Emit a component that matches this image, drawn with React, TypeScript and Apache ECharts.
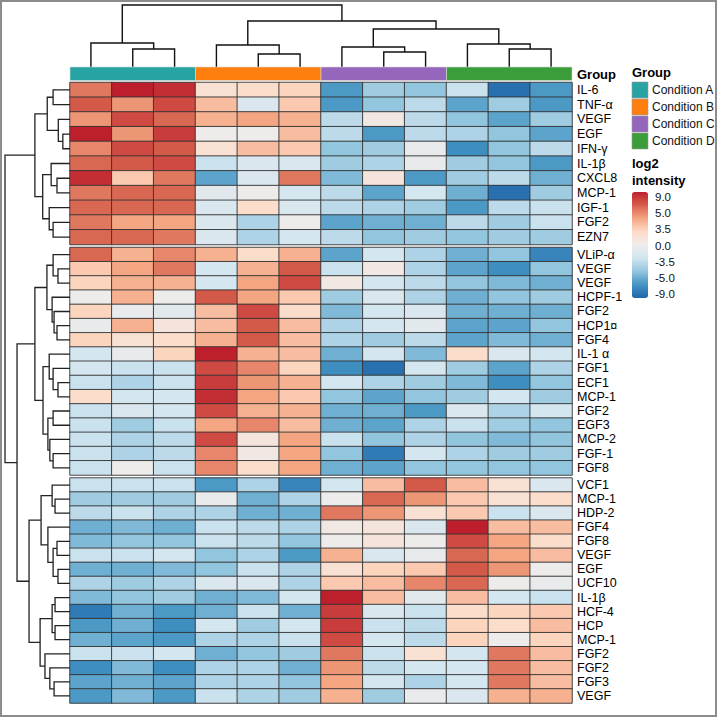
import React, { useEffect, useRef } from "react";
import * as echarts from "echarts";

// ---------------- DATA ----------------
const columns = ["A1", "A2", "A3", "B1", "B2", "B3", "C1", "C2", "C3", "D1", "D2", "D3"];
const groups = ["Condition A", "Condition B", "Condition C", "Condition D"];
const groupColors = ["#27a3a3", "#ff7f0e", "#9467bd", "#3c9e3a"];

const rowsBlock1 = ["IL-6", "TNF-α", "VEGF", "EGF", "IFN-γ", "IL-1β", "CXCL8", "MCP-1", "IGF-1", "FGF2", "EZN7"];
const rowsBlock2 = ["VLiP-α", "VEGF", "VEGF", "HCPF-1", "FGF2", "HCP1¤", "FGF4", "IL-1 α", "FGF1", "ECF1", "MCP-1", "FGF2", "EGF3", "MCP-2", "FGF-1", "FGF8"];
const rowsBlock3 = ["VCF1", "MCP-1", "HDP-2", "FGF4", "FGF8", "VEGF", "EGF", "UCF10", "IL-1β", "HCF-4", "HCP", "MCP-1", "FGF2", "FGF2", "FGF3", "VEGF"];

const valuesBlock1 = [
  [6, 9, 8.5, 1.5, 2, 2.5, -6.5, -4, -4.5, -2.5, -8.5, -6.5],
  [7, 5, 7.5, 3.5, -1.5, 3, -6.5, -4.5, -3, -6, -4, -6.5],
  [5, 7.5, 6.5, 4, 4.5, 4, -3, 0.5, -3, -4.5, -6, -4],
  [9, 5, 8, 0, 0, 3.5, -3, -6.5, -3, -3.5, -4.5, -6],
  [5.5, 7.5, 7, 1.5, 3.5, 3, -4.5, -4, -0.5, -7, -4.5, -3],
  [6.5, 7, 7.5, -2.5, -1.5, -1.5, -4, -3.5, -0.5, -4, -4.5, -6.5],
  [8.5, 3, 6, -6, -1.5, 6, -5, 1, -6.5, -4, -3, -5.5],
  [6, 6.5, 6.5, -1, 0, -2, -3, -6, -2, -5.5, -8.5, -4],
  [6.5, 6.5, 6.5, -1.5, 2, -1.5, -3, -3.5, -4, -6.5, -3, -2.5],
  [6, 4.5, 4.5, -1.5, -3.5, 0, -6, -5.5, -5.5, -3, -4, -2.5],
  [6.5, 6.5, 6, -1.5, -3.5, -2, -3, -4.5, -4, -4.5, -4, -4],
];
const valuesBlock2 = [
  [6.5, 4, 5.5, 4, 2, 4, -6, -2, -3.5, -5.5, -4.5, -7.5],
  [3, 4.5, 6, -2, 4, 7, -2.5, 0.5, -3.5, -6, -7, -4.5],
  [2.5, 4, 4, -2, 4.5, 7.5, 0.5, -2, -3, -4.5, -5, -5.5],
  [0, 4, 0, 7, 4.5, 3, -4, -1.5, -3.5, -5.5, -4.5, -4],
  [2.5, -0.5, -1, 3.5, 7.5, 2, -5, -2, -1.5, -5.5, -5.5, -5.5],
  [-0.5, 4, 1, 3.5, 7, 3.5, -3.5, -2, -1, -6, -6, -4.5],
  [2.5, 1.5, 2, 4, 7, 3.5, -3.5, -4, -3, -6, -5, -5.5],
  [-2, -0.5, 2.5, 9, 4, 3.5, -5.5, -2, -5, 2, -1.5, -2],
  [-2, -2.5, -2.5, 7.5, 5.5, 2.5, -7, -8.5, -2, -4, -6, -3.5],
  [-2.5, -3.5, -2.5, 8, 5, 4, -2, -3.5, -4, -5, -7, -4.5],
  [2, -2, -2, 8.5, 4.5, 3, -4.5, -6, -4.5, -4, -2, -4],
  [-2.5, -1.5, -2, 7.5, 4, 4, -5.5, -5.5, -6.5, -1.5, -3.5, -2],
  [-2.5, -4, -2.5, 4.5, 5.5, 3.5, -5.5, -6, -3.5, -2.5, -4, -4.5],
  [-2.5, -3.5, -3, 7.5, 1, 4.5, -2.5, -4.5, -3.5, -4.5, -5, -4.5],
  [-2.5, -3.5, -3, 5.5, 0.5, 4.5, -4.5, -8, -2, -3.5, -4, -4],
  [-2.5, 0, -2.5, 5.5, 2, 4.5, -5.5, -6, -4.5, -4.5, -4.5, -4.5],
];
const valuesBlock3 = [
  [-2.5, -2.5, -2.5, -6.5, -3.5, -7.5, -2, 3.5, 7, 3.5, 1.5, -1.5],
  [-4, -4, -4, -0.5, -5.5, -3.5, 0, 6.5, 5, 3, 1.5, 2],
  [-3, -2.5, -3.5, -3.5, -5.5, -5.5, 6, 5, 1.5, 3, -2.5, -1.5],
  [-5.5, -5, -5.5, -2.5, -3, -3.5, 0.5, 1, -1.5, 9, 3.5, 3.5],
  [-5, -4.5, -4.5, -2.5, -3, -4.5, 0, 1, 0, 7.5, 4.5, 2],
  [-2.5, -2.5, -2, -4.5, -3.5, -6.5, 4, -1.5, -0.5, 6.5, 4.5, 3.5],
  [-5.5, -5.5, -5, -4.5, -2.5, -3.5, 1.5, 2.5, 3, 7, 5, 0],
  [-3.5, -4, -3.5, -1.5, -1.5, -3.5, 3, 3.5, 5.5, 6.5, 0, -0.5],
  [-5, -4.5, -4, -5.5, -5, -2, 9, 3.5, -1, 3.5, -2, -2.5],
  [-8, -5.5, -6.5, -5.5, -2.5, -5.5, 8, -1.5, -2.5, 2, 2.5, 3],
  [-6.5, -5.5, -7, -2, -4, -2, 8, -2.5, -3, 2.5, 2, 3.5],
  [-5.5, -6, -6.5, -3.5, -3.5, -2.5, 7.5, -2, -3, 2.5, 0, 2.5],
  [-2.5, -2.5, -2, -5.5, -4.5, -4, 6, -2.5, 1.5, -2, 6, 3.5],
  [-7, -5, -7, -3.5, -3.5, -5.5, 5, -3, -2, -2, 6, 3.5],
  [-6, -5.5, -6, -3.5, -3.5, -4.5, 4.5, -2, -3.5, -2, 6, 3.5],
  [-6.5, -5, -6.5, -2.5, -3.5, -4, 4, -4, -0.5, -1.5, 4, 4],
];

// Dendrograms: [left, right, mergeHeight]; leaves are row / column indices
type Tree = number | [Tree, Tree, number];
const rowTreeBlock1: Tree = [
  [[0, 1, 2.6], [2, [3, 4, 1.1], 1.8], 3.5],
  [[5, [6, 7, 2.0], 2.9], [8, [9, 10, 2.6], 3.2], 4.2],
  5.4,
];
const rowTreeBlock2: Tree = [
  [[11, [12, 13, 1.85], 2.6], [14, [15, [16, 17, 2.0], 2.45], 2.75], 3.55],
  [[18, [19, [20, 21, 1.85], 2.6], 3.2], [[22, 23, 2.6], [24, [25, 26, 2.6], 3.1], 3.4], 4.15],
  5.4,
];
const rowTreeBlock3: Tree = [
  [[27, [28, 29, 2.3], 2.75], [30, [[31, 32, 2.0], [33, 34, 1.85], 2.6], 3.4], 4.45],
  [[[35, 36, 2.3], [37, 38, 2.3], 2.75], [39, [40, [41, 42, 2.45], 3.1], 3.85], 4.6],
  6.3,
];
const rowTree: Tree = [rowTreeBlock1, [rowTreeBlock2, rowTreeBlock3, 8.15], 10];
const colTree: Tree = [
  [0, [1, 2, 18], 24],
  [[3, [4, 5, 13], 22], [[6, [7, 8, 15], 20], [9, [10, 11, 18], 23], 38], 46],
  62,
];

const legendTicks = ["9.0", "5.0", "3.5", "0.0", "-3.5", "-5.0", "-9.0"];
const colorMin = -9;
const colorMax = 9;

// ---------------- LAYOUT ----------------
const FONT = "'Liberation Sans', Arial, Helvetica, sans-serif";
const HM_LEFT = 70;
const HM_WIDTH = 502;
const blockLayout = [
  { top: 82.5, height: 162 },
  { top: 247.5, height: 227.5 },
  { top: 478, height: 225 },
];
const HM_TOP = blockLayout[0].top;
const HM_BOTTOM = blockLayout[2].top + blockLayout[2].height;
const palette = ["#2166ac", "#4393c3", "#92c5de", "#d1e5f0", "#eeeceb", "#fddbc7", "#f4a582", "#d6604d", "#bd1f2d"];

function flattenTree(tree: Tree, pos: (leaf: number) => number): number[][] {
  const links: number[][] = [];
  const walk = (t: Tree): [number, number] => {
    if (typeof t === "number") return [pos(t), 0];
    const a = walk(t[0]);
    const b = walk(t[1]);
    links.push([a[0], a[1], b[0], b[1], t[2]]);
    return [(a[0] + b[0]) / 2, t[2]];
  };
  walk(tree);
  return links;
}

export default function App() {
  const ref = useRef<HTMLDivElement>(null);
  useEffect(() => {
    if (!ref.current) return;
    const chart = echarts.init(ref.current, undefined, { renderer: "svg" });
    const blocks = [
      { names: rowsBlock1, values: valuesBlock1 },
      { names: rowsBlock2, values: valuesBlock2 },
      { names: rowsBlock3, values: valuesBlock3 },
    ];
    const starts: number[] = [];
    let acc = 0;
    blocks.forEach((b) => {
      starts.push(acc);
      acc += b.names.length;
    });
    const rowPos = (i: number) => {
      let b = 0;
      for (let k = 0; k < blocks.length; k++) if (i >= starts[k]) b = k;
      const L = blockLayout[b];
      return L.top - HM_TOP + ((i - starts[b] + 0.5) * L.height) / blocks[b].names.length;
    };
    const rowLinks = flattenTree(rowTree, rowPos);
    const colLinks = flattenTree(colTree, (c) => c + 0.5);
    const rootRow = (rowTree as any)[2] as number;
    const rootCol = (colTree as any)[2] as number;

    const grids: any[] = blockLayout.map((L) => ({ left: HM_LEFT, width: HM_WIDTH, top: L.top, height: L.height }));
    grids.push({ left: 3, width: HM_LEFT - 3, top: HM_TOP, height: HM_BOTTOM - HM_TOP }); // 3 row dendro
    grids.push({ left: HM_LEFT, width: HM_WIDTH, top: 0, height: 67 }); // 4 col dendro
    grids.push({ left: HM_LEFT, width: HM_WIDTH, top: 67, height: 13.5 }); // 5 group bar

    const xAxes: any[] = blocks.map((_, b) => ({ type: "category", gridIndex: b, data: columns, show: false }));
    xAxes.push({ type: "value", gridIndex: 3, min: 0, max: (rootRow * 67) / 65, inverse: true, show: false });
    xAxes.push({ type: "value", gridIndex: 4, min: 0, max: columns.length, show: false });
    xAxes.push({ type: "value", gridIndex: 5, min: 0, max: columns.length, show: false });

    const yAxes: any[] = blocks.map((b, bi) => ({
      type: "category",
      gridIndex: bi,
      data: b.names,
      inverse: true,
      position: "right",
      axisLine: { show: false },
      axisTick: { show: false },
      splitLine: { show: false },
      axisLabel: { interval: 0, margin: 5, fontSize: 12.5, color: "#000", fontFamily: FONT },
    }));
    yAxes.push({ type: "value", gridIndex: 3, min: 0, max: HM_BOTTOM - HM_TOP, inverse: true, show: false });
    yAxes.push({ type: "value", gridIndex: 4, min: 0, max: rootCol + 5, show: false });
    yAxes.push({ type: "value", gridIndex: 5, min: 0, max: 1, show: false });

    const series: any[] = blocks.map((b, bi) => {
      const data: number[][] = [];
      b.values.forEach((row, r) => row.forEach((v, c) => data.push([c, r, v])));
      return {
        type: "heatmap",
        xAxisIndex: bi,
        yAxisIndex: bi,
        data,
        itemStyle: { borderColor: "#333", borderWidth: 0.9 },
        emphasis: { disabled: true },
      };
    });
    series.push({
      type: "custom",
      xAxisIndex: 3,
      yAxisIndex: 3,
      data: rowLinks,
      encode: { x: 1, y: 0 },
      clip: false,
      renderItem: (_p: any, api: any) => {
        const p1 = api.value(0), h1 = api.value(1), p2 = api.value(2), h2 = api.value(3), h = api.value(4);
        return {
          type: "polyline",
          shape: { points: [api.coord([h1, p1]), api.coord([h, p1]), api.coord([h, p2]), api.coord([h2, p2])] },
          style: { stroke: "#222", lineWidth: 1.3, fill: null },
        };
      },
    });
    series.push({
      type: "custom",
      xAxisIndex: 4,
      yAxisIndex: 4,
      data: colLinks,
      encode: { x: 0, y: 1 },
      clip: false,
      renderItem: (_p: any, api: any) => {
        const p1 = api.value(0), h1 = api.value(1), p2 = api.value(2), h2 = api.value(3), h = api.value(4);
        return {
          type: "polyline",
          shape: { points: [api.coord([p1, h1]), api.coord([p1, h]), api.coord([p2, h]), api.coord([p2, h2])] },
          style: { stroke: "#111", lineWidth: 1.4, fill: null },
        };
      },
    });
    const per = columns.length / groups.length;
    series.push({
      type: "custom",
      xAxisIndex: 5,
      yAxisIndex: 5,
      data: groups.map((_, g) => [g * per, (g + 1) * per, g]),
      encode: { x: 0, y: 2 },
      renderItem: (_p: any, api: any) => {
        const a = api.coord([api.value(0), 1]);
        const b = api.coord([api.value(1), 0]);
        return {
          type: "rect",
          shape: { x: a[0], y: a[1], width: b[0] - a[0], height: b[1] - a[1] },
          style: { fill: groupColors[api.value(2)], stroke: "#d8d8d8", lineWidth: 0.6 },
        };
      },
    });

    const graphic: any[] = [
      { type: "rect", shape: { x: 1, y: 1, width: 715, height: 715 }, style: { fill: null, stroke: "#8c8c8c", lineWidth: 2 }, silent: true },
      { type: "text", x: 577, y: 74, style: { text: "Group", fontSize: 13, fontWeight: "bold", fontFamily: FONT, fill: "#000", verticalAlign: "middle" } },
      { type: "text", x: 632, y: 72, style: { text: "Group", fontSize: 13, fontWeight: "bold", fontFamily: FONT, fill: "#000", verticalAlign: "middle" } },
      { type: "text", x: 632, y: 163, style: { text: "log2", fontSize: 13, fontWeight: "bold", fontFamily: FONT, fill: "#000", verticalAlign: "middle" } },
      { type: "text", x: 632, y: 180, style: { text: "intensity", fontSize: 13, fontWeight: "bold", fontFamily: FONT, fill: "#000", verticalAlign: "middle" } },
    ];
    groups.forEach((g, i) => {
      graphic.push({ type: "rect", shape: { x: 632, y: 82 + i * 17, width: 16, height: 16 }, style: { fill: groupColors[i], stroke: "#9a9a9a", lineWidth: 0.6 } });
      graphic.push({ type: "text", x: 652, y: 90 + i * 17, style: { text: g, fontSize: 12, fontFamily: FONT, fill: "#111", verticalAlign: "middle" } });
    });
    legendTicks.forEach((t, i) => {
      graphic.push({
        type: "text",
        x: 655,
        y: 197 + (i * (294 - 197)) / (legendTicks.length - 1),
        style: { text: t, fontSize: 11.5, fontFamily: FONT, fill: "#111", verticalAlign: "middle" },
      });
    });

    chart.setOption({
      animation: false,
      backgroundColor: "#fff",
      grid: grids,
      xAxis: xAxes,
      yAxis: yAxes,
      visualMap: {
        type: "continuous",
        min: colorMin,
        max: colorMax,
        seriesIndex: [0, 1, 2],
        dimension: 2,
        calculable: false,
        show: true,
        left: 632,
        top: 192,
        itemWidth: 16,
        itemHeight: 106,
        padding: 0,
        text: null,
        hoverLink: false,
        inRange: { color: palette },
      },
      series,
      graphic,
    });
    return () => chart.dispose();
  }, []);
  return <div ref={ref} style={{ position: "fixed", left: 0, top: 0, width: 717, height: 717, background: "#fff" }} />;
}
